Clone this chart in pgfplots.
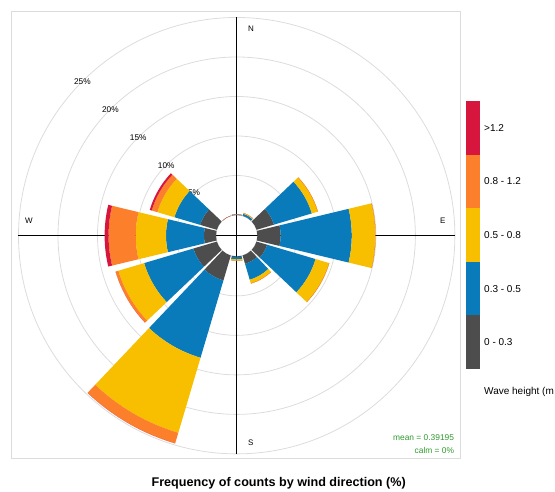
\documentclass[border=0pt]{standalone}
\usepackage{fontspec}
\setmainfont{Liberation Sans}
\usepackage{pgfplots}
\usepackage{pgfplotstable}
\pgfplotsset{compat=1.18}

\definecolor{cG}{HTML}{4D4D4D}
\definecolor{cB}{HTML}{0A7BBA}
\definecolor{cY}{HTML}{F8BE00}
\definecolor{cO}{HTML}{FC7F2C}
\definecolor{cR}{HTML}{D7163E}
\definecolor{gridc}{HTML}{DCDCDC}
\definecolor{meanc}{HTML}{2E9A2E}

\def\U{7.9}    % pt per percent
\def\Off{2.62} % inner hole radius, in percent units
\def\HW{13.5}  % half width of a wedge, degrees

% frequency (%) of each wave-height band, by wind direction
\pgfplotstableread{
dir  g     b     y     o     r
30   0.03  0.25  0.10  0.00  0.00
60   2.30  5.00  0.80  0.00  0.00
90   2.95  9.00  3.00  0.00  0.00
120  1.40  6.40  1.80  0.00  0.00
150  1.10  2.10  0.50  0.00  0.00
180  0.12  0.28  0.15  0.03  0.00
210  3.30 10.20  9.90  1.40  0.00
240  3.10  6.50  3.40  0.37  0.00
270  1.52  4.81  3.83  3.44  0.50
300  2.20  3.40  2.25  0.75  0.26
330  0.00  0.00  0.00  0.00  0.00
360  0.06  0.04  0.00  0.00  0.00
}\windtab
% cumulative boundaries of the stacked bands
\pgfplotstablecreatecol[expr={\thisrow{g}}]{c1}\windtab
\pgfplotstablecreatecol[expr={\thisrow{c1}+\thisrow{b}}]{c2}\windtab
\pgfplotstablecreatecol[expr={\thisrow{c2}+\thisrow{y}}]{c3}\windtab
\pgfplotstablecreatecol[expr={\thisrow{c3}+\thisrow{o}}]{c4}\windtab
\pgfplotstablecreatecol[expr={\thisrow{c4}+\thisrow{r}}]{c5}\windtab
\pgfplotstablecreatecol[expr={0}]{c0}\windtab

\pgfdeclareplotmark{wedge}{%
  \pgfmathsetmacro\rA{(\wlo+\Off)*\U}%
  \pgfmathsetmacro\rB{(\whi+\Off)*\U}%
  \pgfmathsetmacro\aA{90-\wdir-\HW}%
  \pgfmathsetmacro\aB{90-\wdir+\HW}%
  \pgfpathmoveto{\pgfpointpolar{\aA}{\rA pt}}%
  \pgfpathlineto{\pgfpointpolar{\aA}{\rB pt}}%
  \pgfpatharc{\aA}{\aB}{\rB pt}%
  \pgfpathlineto{\pgfpointpolar{\aB}{\rA pt}}%
  \pgfpatharc{\aB}{\aA}{\rA pt}%
  \pgfpathclose
  \pgfusepathqfill
}

\pgfplotsset{
  band/.style n args={3}{only marks, mark=wedge,
    mark options={fill=#1, draw=none, solid},
    visualization depends on={\thisrow{dir} \as \wdir},
    visualization depends on={\thisrow{#2} \as \wlo},
    visualization depends on={\thisrow{#3} \as \whi}},
}

\begin{document}
\begin{tikzpicture}
\useasboundingbox (0pt,0pt) rectangle (555pt,-491pt);
\begin{axis}[
  at={(11.7pt,-458.3pt)}, anchor=south west,
  x=7.9pt, y=7.9pt,
  xmin=-28.48, xmax=28.35, ymin=-28.18, ymax=28.44,
  xtick=\empty, ytick=\empty,
  axis line style={draw=gridc, line width=0.8pt},
  clip=false,
]
\pgfplotsinvokeforeach{0,5,10,15,20,25}{
  \draw[gridc, line width=0.8pt] (axis cs:0,0) circle[radius={(#1+2.62)*7.9pt}];
}
\addplot[band={cG}{c0}{c1}] table[x expr=0, y expr=0] {\windtab};
\addplot[band={cB}{c1}{c2}] table[x expr=0, y expr=0] {\windtab};
\addplot[band={cY}{c2}{c3}] table[x expr=0, y expr=0] {\windtab};
\addplot[band={cO}{c3}{c4}] table[x expr=0, y expr=0] {\windtab};
\addplot[band={cR}{c4}{c5}] table[x expr=0, y expr=0] {\windtab};

\draw[black, line width=0.9pt] (axis cs:0,-27.62) -- (axis cs:0,27.62);
\draw[black, line width=0.9pt] (axis cs:-27.62,0) -- (axis cs:27.62,0);

\node[font=\fontsize{8}{9}\selectfont] at (axis cs:1.8,26.2) {N};
\node[font=\fontsize{8}{9}\selectfont] at (axis cs:1.8,-26.2) {S};
\node[font=\fontsize{8}{9}\selectfont] at (axis cs:-26.3,1.95) {W};
\node[font=\fontsize{8}{9}\selectfont] at (axis cs:26.1,1.95) {E};

\node[font=\fontsize{8.3}{9}\selectfont] at (axis cs:-5.388,5.388) {5\%};
\node[font=\fontsize{8.3}{9}\selectfont] at (axis cs:-8.924,8.924) {10\%};
\node[font=\fontsize{8.3}{9}\selectfont] at (axis cs:-12.459,12.459) {15\%};
\node[font=\fontsize{8.3}{9}\selectfont] at (axis cs:-15.995,15.995) {20\%};
\node[font=\fontsize{8.3}{9}\selectfont] at (axis cs:-19.53,19.53) {25\%};
\end{axis}

% mean / calm
\node[anchor=east, text=meanc, font=\fontsize{8.4}{9}\selectfont, inner sep=0pt] at (454.3pt,-437.7pt) {mean = 0.39195};
\node[anchor=east, text=meanc, font=\fontsize{8.4}{9}\selectfont, inner sep=0pt] at (454.3pt,-450pt) {calm = 0\%};

% colour key
\fill[cR] (466pt,-101pt) rectangle (480.3pt,-154.6pt);
\fill[cO] (466pt,-154.6pt) rectangle (480.3pt,-208.2pt);
\fill[cY] (466pt,-208.2pt) rectangle (480.3pt,-261.8pt);
\fill[cB] (466pt,-261.8pt) rectangle (480.3pt,-315.4pt);
\fill[cG] (466pt,-315.4pt) rectangle (480.3pt,-369pt);
\begin{scope}[every node/.style={anchor=west, inner sep=0pt, font=\fontsize{10}{12}\selectfont}]
\node at (484pt,-127.8pt) {>1.2};
\node at (484pt,-181.4pt) {0.8 - 1.2};
\node at (484pt,-235pt) {0.5 - 0.8};
\node at (484pt,-288.6pt) {0.3 - 0.5};
\node at (484pt,-342.2pt) {0 - 0.3};
\node at (484pt,-391.7pt) {Wave height (m};
\end{scope}

\node[font=\bfseries\fontsize{12.6}{14}\selectfont] at (278.7pt,-483.3pt) {Frequency of counts by wind direction (\%)};
\end{tikzpicture}
\end{document}
